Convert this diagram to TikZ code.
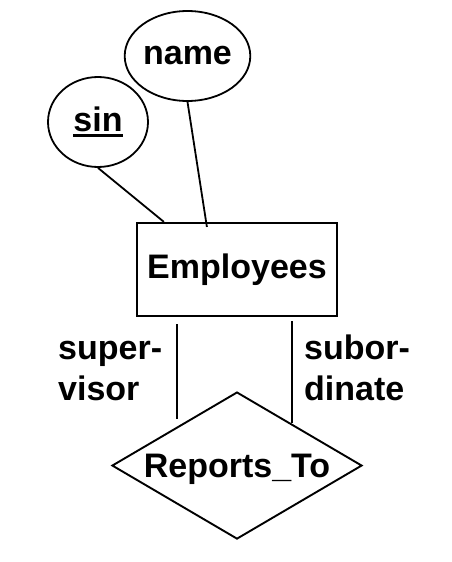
\documentclass[tikz,border=0pt]{standalone}
\usepackage{fontspec}
\setmainfont{Liberation Sans}
\usetikzlibrary{ calc, positioning, shapes.geometric }
\newcommand{\keyattr}[1]{\setbox0=\hbox{#1}\rlap{\rule[-6pt]{\wd0}{3pt}}\box0}
\tikzset{
x=1pt, y=1pt, % one unit is one pixel of the drawing
every node/.style={inner sep=0pt, font=\bfseries\fontsize{34}{41}\selectfont},
attribute/.style={draw, ellipse, line width=1.8pt, minimum width=100pt, minimum height=90pt},
entity/.style={draw, rectangle, line width=2.2pt, minimum width=200pt, minimum height=93pt},
relationship/.style={draw, diamond, line width=1.9pt, aspect=1.7, minimum width=250pt, minimum height=147pt, text depth=0pt},
role/.style={align=left, anchor=base west},
every edge/.style={draw, line width=1.8pt},
}

\begin{document}
\begin{tikzpicture}
  \useasboundingbox (0,0) rectangle (452,-562);
  \node[entity] (emp) at (237,-269.5) {Employees};
  \node[relationship, below=74pt of emp] (rep) {Reports\_To};
  \node[attribute, above=120pt of emp, xshift=-49.5pt] (name) {name};
  \node[attribute, above=54pt of emp, xshift=-139pt] (sin) {\keyattr{sin}};

  % where the connectors meet the boxes
  \coordinate (sinE) at ($(emp.north west)+(28,0)$);
  \coordinate (nameE) at ($(emp.north west)+(71,-5)$);
  \coordinate (supA) at ($(emp.south west)+(41,-7)$);
  \coordinate (supB) at ($(rep.west)!0.53!(rep.north)$);
  \coordinate (subA) at ($(emp.south east)+(-46,-4)$);
  \coordinate (subB) at ($(rep.north)!0.43!(rep.east)$);

  \path
  (sin.south) edge (sinE)
  (name.south) edge (nameE)
  (supA) edge[shorten >=7pt] (supA |- supB)
  (subA) edge (subA |- subB);

  \node[role] (sup) at (58,-400) {super-\\visor};
  \node[role] (sub) at (304,-400) {subor-\\dinate};
\end{tikzpicture}
\end{document}
